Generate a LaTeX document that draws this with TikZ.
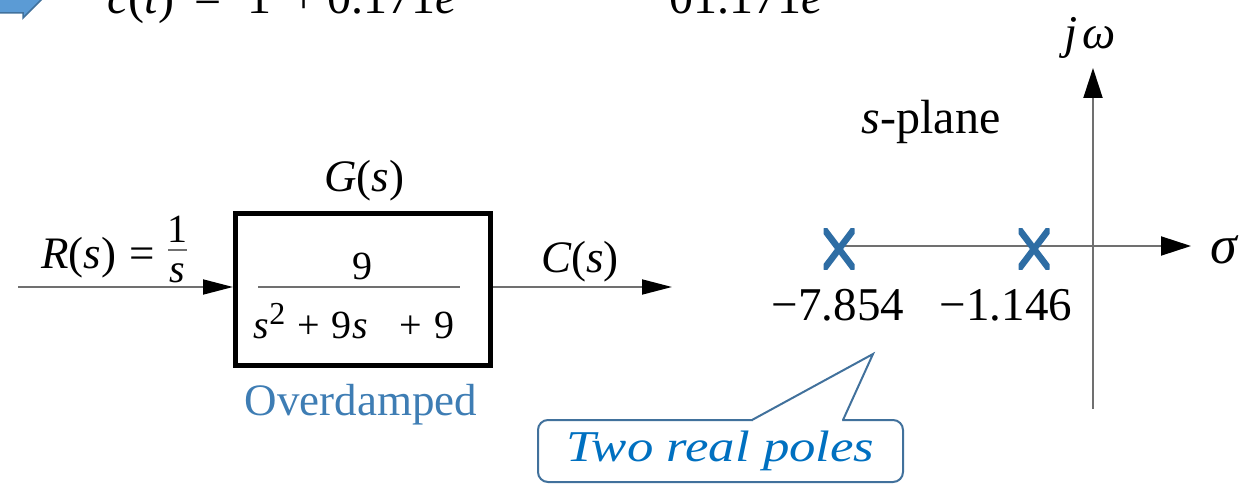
\documentclass[tikz,border=0pt]{standalone}
\usepackage{fontspec}
\usepackage{graphicx}
\setmainfont{Liberation Serif}
\usetikzlibrary{arrows.meta}
\definecolor{axisgray}{RGB}{112,112,112}
\definecolor{poleblue}{RGB}{46,109,164}
\definecolor{odblue}{RGB}{62,125,180}
\definecolor{calloutline}{RGB}{65,113,156}
\definecolor{callouttext}{RGB}{0,112,192}
\definecolor{arrowfill}{RGB}{91,155,213}
\newcommand{\fsz}[1]{\fontsize{#1}{#1}\selectfont}
\begin{document}
\begin{tikzpicture}[x=1pt,y=-1pt,
  lbl/.style={inner sep=0pt, font=\fsz{45}},
  small/.style={inner sep=0pt, font=\fsz{40}},
  eqtxt/.style={inner sep=0pt, anchor=base west, font=\fsz{48}},
  sig/.style={draw=axisgray, line width=1.8pt},
  sigtip/.style={-{Triangle[length=30pt,width=15pt,color=black]}},
  axis/.style={draw=axisgray, line width=2pt},
  axtip/.style={-{Triangle[length=30pt,width=19pt,color=black]}},
  fracbar/.style={draw=axisgray, line width=1.5pt},
  pole/.style={inner sep=0pt, minimum width=31pt, minimum height=41pt,
    path picture={\draw[poleblue, line width=6.5pt]
      (path picture bounding box.north west) -- (path picture bounding box.south east)
      (path picture bounding box.south west) -- (path picture bounding box.north east);}},
  blockbox/.style={draw=black, line width=5pt, minimum width=255pt, minimum height=152pt, inner sep=0pt},
  calloutbox/.style={draw=calloutline, line width=2pt, rounded corners=10pt, fill=white,
    minimum width=365pt, minimum height=62pt, inner sep=0pt, text=callouttext, font=\fsz{44}\itshape}
]
\useasboundingbox (0,0) rectangle (1256,484);
\clip (0,0) rectangle (1256,484);

% top (clipped) line
\fill[arrowfill, draw=calloutline, line width=1.5pt]
  (-3,-40) -- (-3,13) -- (23,13) -- (23,18) -- (54,-13) -- (23,-44) -- cycle;
\node[eqtxt] (eq1) at (107,14) {\textit{c}(\textit{t})\hspace{20pt}=\hspace{26pt}1\hspace{19pt}+\hspace{10pt}0.171\textit{e}};
\node[eqtxt] (eq2) at (625,14) {−\hspace{17pt}01.171\textit{e}};

% block diagram
\node[blockbox] (G) at (363,289.5) {};
\coordinate (in) at (18,287);
\coordinate (out) at (672,287);
\draw[sig, sigtip] (in) -- (in -| G.west);
\draw[sig, sigtip] (G.east |- in) -- (out);
\node[small] (num) at (362,266) {9};
\draw[fracbar] (258,287) -- (460,287);
\node[small, anchor=base] (den) at (354,338) {\textit{s}\raisebox{14pt}{\fsz{32}2}\hspace{12pt}+\hspace{12pt}9\textit{s}\hspace{32pt}+\hspace{12pt}9};
\node[lbl] (Glbl) at (364,181) {\textit{G}(\textit{s})};
\node[lbl, anchor=base east] (rs) at (155,268) {\textit{R}(\textit{s})\hspace{13pt}=};
\node[small] (one) at (177,229) {1};
\draw[fracbar] (168,250) -- (187,250);
\node[small] (sden) at (177,273) {\textit{s}};
\node[lbl] (cs) at (580,262) {\textit{C}(\textit{s})};
\node[lbl, text=odblue] (od) at (361,405) {Overdamped};

% s-plane
\coordinate (hstart) at (839,246);
\coordinate (hend) at (1191,246);
\coordinate (vbot) at (1093,409);
\coordinate (vtop) at (1093,68);
\draw[axis, axtip] (vbot) -- (vtop);
\draw[axis, axtip] (hstart) -- (hend);
\node[pole] (p1) at (839,249) {};
\node[pole] (p2) at (1034,249) {};
\node[lbl, font=\fsz{47}] (v1) at (838,305) {−7.854};
\node[lbl, font=\fsz{47}] (v2) at (1006,305) {−1.146};
\node[lbl, font=\fsz{47}] (jw) at (1090,38) {\textit{j}\hspace{5pt}\textit{ω}};
\node[lbl, font=\fsz{54}] (sg) at (1225,250) {\textit{σ}};
\node[lbl, font=\fsz{48}] (sp) at (931,122) {\textit{s}-plane};

% callout
\node[calloutbox] (cb) at (720.5,451) {\scalebox{1.2}[1]{Two real poles}};
\coordinate (ptip) at (873,354);
\fill[white] (753,422.5) -- (753,418) -- (ptip) -- (842,418) -- (842,422.5) -- cycle;
\draw[calloutline, line width=2pt] (752,420) -- (ptip) -- (843,420);
\end{tikzpicture}
\end{document}
